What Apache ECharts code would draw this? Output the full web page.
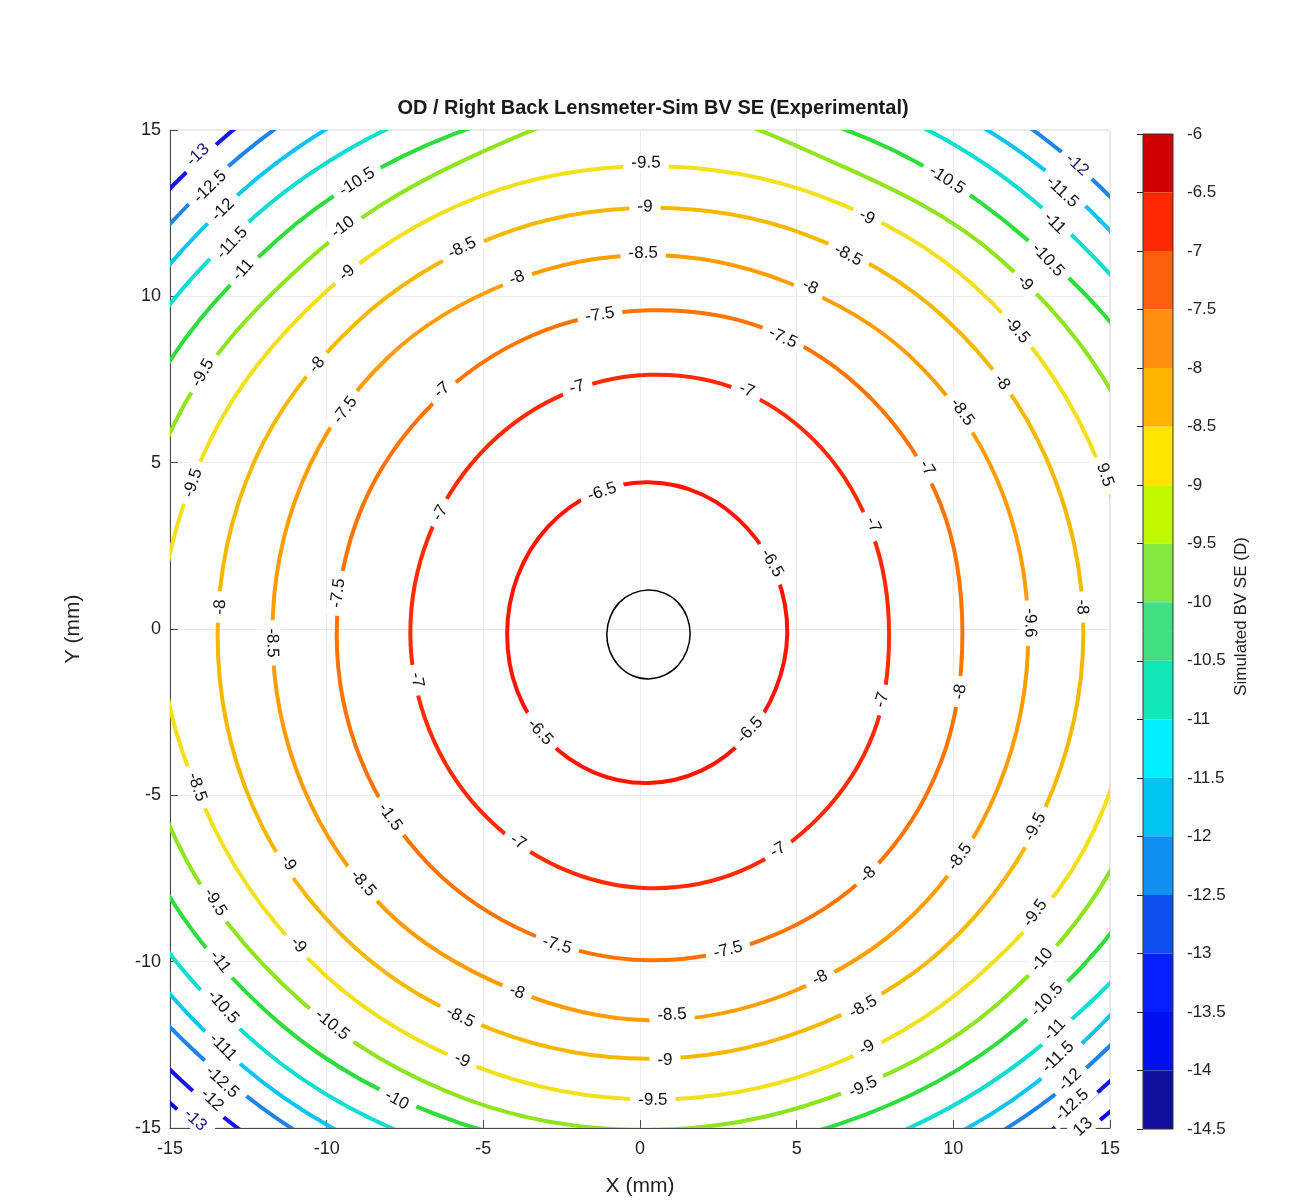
<!DOCTYPE html>
<html>
<head>
<meta charset="utf-8">
<title>OD / Right Back Lensmeter-Sim BV SE (Experimental)</title>
<script src="https://cdn.jsdelivr.net/npm/echarts@6/dist/echarts.min.js"></script>
<style>
    html, body { margin: 0; padding: 0; background: #fff; }
    #main { width: 1306px; height: 1204px; }
</style>
</head>
<body>
<div id="main"></div>
<script>
// contour levels, from the centre out (D)
const levels = [-6, -6.5, -7, -7.5, -8, -8.5, -9, -9.5, -10, -10.5, -11, -11.5, -12, -12.5];
const lineColors = ['#000000', '#ff1400', '#ff2a00', '#ff7400', '#ff9c00', '#f5b800', '#f2e01c',
    '#8ee41e', '#2edc3c', '#10dcd0', '#0cc4f0', '#1e84e6', '#1616e0', '#0a0ad2'];

// centre of the innermost ring (mm)
const ringCentre = [0.27, -0.14];
const readAngles = [0, 22.5, 45, 67.5, 90, 112.5, 135, 157.5, 180, 202.5, 225, 247.5, 270, 292.5, 315, 337.5];

// radius (mm) of each contour at readAngles
const r_6    = [1.33, 1.33, 1.33, 1.32, 1.31, 1.31, 1.32, 1.32, 1.33, 1.34, 1.35, 1.36, 1.36, 1.35, 1.34, 1.33];
const r_6_5  = [4.43, 4.45, 4.47, 4.52, 4.55, 4.56, 4.54, 4.52, 4.51, 4.53, 4.54, 4.52, 4.49, 4.45, 4.40, 4.39];
const r_7    = [7.68, 7.75, 7.85, 7.88, 7.78, 7.68, 7.62, 7.60, 7.60, 7.57, 7.56, 7.58, 7.65, 7.72, 7.75, 7.78];
const r_7_5  = [10.02, 10.1, 10.02, 9.9, 9.72, 9.7, 9.76, 9.9, 9.95, 9.93, 9.86, 9.78, 9.82, 9.9, 10.07, 10.1];
const r_8    = [12.12, 12.05, 11.8, 11.45, 11.38, 11.45, 11.75, 11.95, 12.0, 11.95, 11.8, 11.55, 11.62, 11.7, 11.95, 12.08];
const r_8_5  = [13.88, 13.75, 13.4, 13.0, 12.8, 12.9, 13.2, 13.6, 13.75, 13.65, 13.3, 12.9, 12.78, 12.92, 13.35, 13.7];
const r_9    = [15.55, 15.2, 14.75, 14.25, 14.05, 14.2, 14.55, 15.15, 15.55, 15.05, 14.55, 14.12, 14.0, 14.2, 14.7, 15.4];
const r_9_5  = [16.65, 16.55, 15.9, 15.35, 15.9, 15.4, 15.65, 16.4, 16.65, 16.3, 15.65, 15.15, 14.92, 15.1, 15.75, 16.45];
const r_10   = [17.9, 17.85, 16.9, 16.4, 16.15, 16.25, 16.75, 17.5, 17.8, 17.35, 16.6, 15.9, 15.55, 15.95, 16.7, 17.6];
const r_10_5 = [19.0, 18.75, 17.95, 17.4, 17.1, 17.2, 17.75, 18.55, 18.8, 18.4, 17.55, 16.8, 16.5, 16.85, 17.6, 18.75];
const r_11   = [19.9, 19.6, 18.9, 18.25, 18.0, 18.1, 18.6, 19.3, 19.6, 19.2, 18.35, 17.6, 17.4, 17.65, 18.4, 19.3];
const r_11_5 = [20.6, 20.3, 19.65, 19.1, 18.9, 19.0, 19.45, 20.1, 20.4, 20.0, 19.0, 18.3, 18.2, 18.25, 19.05, 20.0];
const r_12   = [21.5, 21.3, 21.3, 20.6, 19.8, 19.9, 20.2, 21.0, 21.3, 20.9, 19.95, 19.2, 19.0, 19.2, 19.85, 20.9];
const r_12_5 = [22.3, 22.1, 22.2, 21.5, 20.7, 20.8, 21.7, 21.8, 22.1, 21.7, 20.7, 20.0, 19.8, 20.0, 20.55, 21.7];
const ringRadii = [r_6, r_6_5, r_7, r_7_5, r_8, r_8_5, r_9, r_9_5, r_10, r_10_5, r_11, r_11_5, r_12, r_12_5];

// inline contour labels as printed on the plot: [x mm, y mm, text]
const contourLabels = [
    [-14.11, 14.25, '-13'], [-13.72, 13.29, '-12.5'], [-13.31, 12.60, '-12'], [-13.02, 11.60, '-11.5'],
    [-12.67, 10.79, '-11'], [-9.03, 13.44, '-10.5'], [-9.48, 12.08, '-10'], [-9.35, 10.70, '-9'],
    [-5.68, 11.45, '-8.5'], [-3.93, 10.55, '-8'], [-1.28, 9.44, '-7.5'], [-13.95, 7.70, '-9.5'],
    [-10.31, 7.94, '-8'], [-9.41, 6.58, '-7.5'], [-6.32, 7.18, '-7'], [-2.01, 7.27, '-7'],
    [-1.21, 4.12, '-6.5'], [-14.27, 4.39, '-9.5'], [-6.38, 3.49, '-7'], [-13.40, 0.66, '-8'],
    [-9.64, 1.08, '-7.5'], [0.19, 14.01, '-9.5'], [0.16, 12.69, '-9'], [0.10, 11.30, '-8.5'],
    [13.95, 13.95, '-12'], [13.47, 13.14, '-11.5'], [13.24, 12.20, '-11'], [13.02, 11.09, '-10.5'],
    [9.80, 13.50, '-10.5'], [7.24, 12.38, '-9'], [12.29, 10.40, '-9'], [6.64, 11.24, '-8.5'],
    [12.03, 8.99, '-9.5'], [5.43, 10.28, '-8'], [11.55, 7.42, '-8'], [4.56, 8.75, '-7.5'],
    [10.28, 6.52, '-8.5'], [3.41, 7.18, '-7'], [9.16, 4.84, '-7'], [14.84, 4.63, '9.5'],
    [7.44, 3.13, '-7'], [4.21, 1.98, '-6.5'], [12.45, 0.18, '-9.6'], [14.11, 0.66, '-8'],
    [-11.74, -0.42, '-8.5'], [-7.12, -1.53, '-7'], [-3.19, -3.10, '-6.5'], [-14.14, -4.75, '-8.5'],
    [-7.98, -5.65, '-1.5'], [-3.89, -6.40, '-7'], [-13.56, -8.21, '-9.5'], [-11.23, -7.03, '-9'],
    [-8.84, -7.64, '-8.5'], [-10.91, -9.50, '-9'], [-2.65, -9.50, '-7.5'], [-13.40, -10.01, '-11'],
    [-9.83, -11.90, '-10.5'], [-3.93, -10.91, '-8'], [-5.74, -11.66, '-8.5'], [-13.31, -11.36, '-10.5'],
    [-13.31, -12.57, '-111'], [-5.68, -12.96, '-9'], [-13.34, -13.62, '-12.5'], [-7.76, -14.16, '-10'],
    [-13.66, -14.16, '-12'], [-14.20, -14.76, '-13'],
    [3.51, -3.04, '-6.5'], [7.72, -2.13, '-7'], [10.21, -1.89, '-8'], [4.40, -6.64, '-7'],
    [7.28, -7.39, '-8'], [10.21, -6.85, '-8.5'], [12.61, -5.95, '-9.5'], [12.61, -8.54, '-9.5'],
    [2.81, -9.65, '-7.5'], [5.74, -10.49, '-8'], [7.12, -11.36, '-8.5'], [12.83, -9.95, '-10'],
    [12.99, -11.15, '-10.5'], [1.02, -11.60, '-8.5'], [7.24, -12.59, '-9'], [13.24, -12.05, '-11'],
    [0.80, -12.96, '-9'], [13.34, -12.87, '-11.5'], [7.12, -13.77, '-9.5'], [0.41, -14.16, '-9.5'],
    [13.72, -13.56, '-12'], [13.79, -14.31, '-12.5'], [14.14, -14.97, '13']
];
// labels printed in navy instead of black (index into contourLabels)
const navyLabels = [0, 24, 65, 89];

// colour bar: band edges (D) and band colours, top to bottom
const barEdges = [-6, -6.5, -7, -7.5, -8, -8.5, -9, -9.5, -10, -10.5, -11, -11.5, -12, -12.5, -13, -13.5, -14, -14.5];
const barColors = ['#d00000', '#ff2800', '#ff6010', '#ff9010', '#ffb400', '#ffe400', '#c0f800', '#82ea40',
    '#40e080', '#10e8b8', '#00eeff', '#00c4f2', '#1090f0', '#1050f0', '#0820ff', '#0010ee', '#10109c'];

const axisTicks = [-15, -10, -5, 0, 5, 10, 15];

const FONT = "'Liberation Sans', Arial, Helvetica, sans-serif";

//把标签放成和等值线相切的方向
function tangentRotate(x, y) {
    let dx = (x - ringCentre[0]) * 940 / 30;
    let dy = (y - ringCentre[1]) * 998 / 30;
    let rot = Math.atan2(dy, dx) * 180 / Math.PI + 90;
    while (rot > 90) rot -= 180;
    while (rot <= -90) rot += 180;
    return rot;
}

let chart = echarts.init(document.getElementById('main'), null, {renderer: 'canvas'});

//等值线
let ringSeries = ringRadii.map(function (radii, k) {
    let pts = radii.map(function (r, i) {
        let a = readAngles[i] * Math.PI / 180;
        return [ringCentre[0] + r * Math.cos(a), ringCentre[1] + r * Math.sin(a)];
    });
    return {
        name: String(levels[k]),
        type: 'custom',
        xAxisIndex: 0,
        yAxisIndex: 0,
        clip: true,
        silent: true,
        z: 2,
        data: pts,
        renderItem: function (params, api) {
            if (params.dataIndexInside !== 0) return;
            let p = [];
            for (let i = 0; i < params.dataInsideLength; i++) {
                p.push(api.coord([api.value(0, i), api.value(1, i)]));
            }
            return {
                type: 'polygon',
                shape: {points: p, smooth: 0.35},
                style: {fill: 'none', stroke: lineColors[k], lineWidth: k === 0 ? 1.5 : 4}
            };
        }
    };
});

//等值线上的数字
let labelSeries = {
    type: 'scatter',
    xAxisIndex: 0,
    yAxisIndex: 0,
    z: 5,
    silent: true,
    symbolSize: 0.1,
    itemStyle: {color: 'transparent', opacity: 1},
    data: contourLabels.map(function (l, i) {
        return {
            value: [l[0], l[1]],
            name: l[2],
            label: {
                rotate: tangentRotate(l[0], l[1]),
                color: navyLabels.indexOf(i) >= 0 ? '#1a1a7a' : '#111'
            }
        };
    }),
    label: {
        show: true,
        position: 'inside',
        formatter: '{b}',
        fontSize: 17,
        fontFamily: FONT,
        opacity: 1,
        backgroundColor: '#ffffff',
        padding: [1, 8]
    }
};

//色标
let barSeries = {
    type: 'custom',
    xAxisIndex: 1,
    yAxisIndex: 1,
    silent: true,
    data: barColors.map(function (c, i) { return [barEdges[i], barEdges[i + 1]]; }),
    renderItem: function (params, api) {
        let p0 = api.coord([0, api.value(0)]);
        let p1 = api.coord([1, api.value(1)]);
        return {
            type: 'rect',
            shape: {x: p0[0], y: p0[1], width: p1[0] - p0[0], height: p1[1] - p0[1]},
            style: {fill: barColors[params.dataIndex], stroke: null}
        };
    }
};

let mainAxis = function (name, nameGap, labelMargin) {
    return {
        type: 'value',
        gridIndex: 0,
        min: axisTicks[0],
        max: axisTicks[axisTicks.length - 1],
        interval: 5,
        name: name,
        nameLocation: 'middle',
        nameGap: nameGap,
        nameTextStyle: {fontSize: 21, color: '#222', fontFamily: FONT},
        axisLine: {show: true, onZero: false, lineStyle: {color: '#4a4a4a', width: 1}},
        axisTick: {show: true, inside: true, length: 8, lineStyle: {color: '#4a4a4a'}},
        axisLabel: {fontSize: 18, color: '#222', fontFamily: FONT, margin: labelMargin},
        splitLine: {show: true, lineStyle: {color: '#ebebeb', width: 1}}
    };
};

let option = {
    backgroundColor: '#fff',
    animation: false,
    title: {
        text: 'OD / Right Back Lensmeter-Sim BV SE (Experimental)',
        left: 'center',
        top: 93,
        textStyle: {fontSize: 20, fontWeight: 'bold', color: '#1a1a1a', fontFamily: FONT}
    },
    grid: [
        {left: 170, top: 130, width: 940, height: 998, show: true, borderColor: '#d2d2d2', borderWidth: 1},
        {left: 1143, top: 134, width: 30, height: 995, show: true, borderColor: '#333',
            borderWidth: 1, backgroundColor: 'transparent', z: 5}
    ],
    xAxis: [
        mainAxis('X (mm)', 48, 12),
        {type: 'value', gridIndex: 1, min: 0, max: 1, show: false}
    ],
    yAxis: [
        mainAxis('Y (mm)', 86, 9),
        {
            type: 'value',
            gridIndex: 1,
            position: 'right',
            min: barEdges[barEdges.length - 1],
            max: barEdges[0],
            interval: 0.5,
            z: 10,
            name: 'Simulated BV SE (D)',
            nameLocation: 'middle',
            nameRotate: 90,
            nameGap: 60,
            nameTextStyle: {fontSize: 17, color: '#222', fontFamily: FONT, padding: [0, 0, 0, 30]},
            axisLine: {show: false},
            axisTick: {show: true, inside: true, length: 6, lineStyle: {color: '#222'}},
            axisLabel: {fontSize: 17, color: '#222', fontFamily: FONT, margin: 14},
            splitLine: {show: false}
        }
    ],
    series: ringSeries.concat([labelSeries, barSeries])
};

chart.setOption(option);
</script>
</body>
</html>
